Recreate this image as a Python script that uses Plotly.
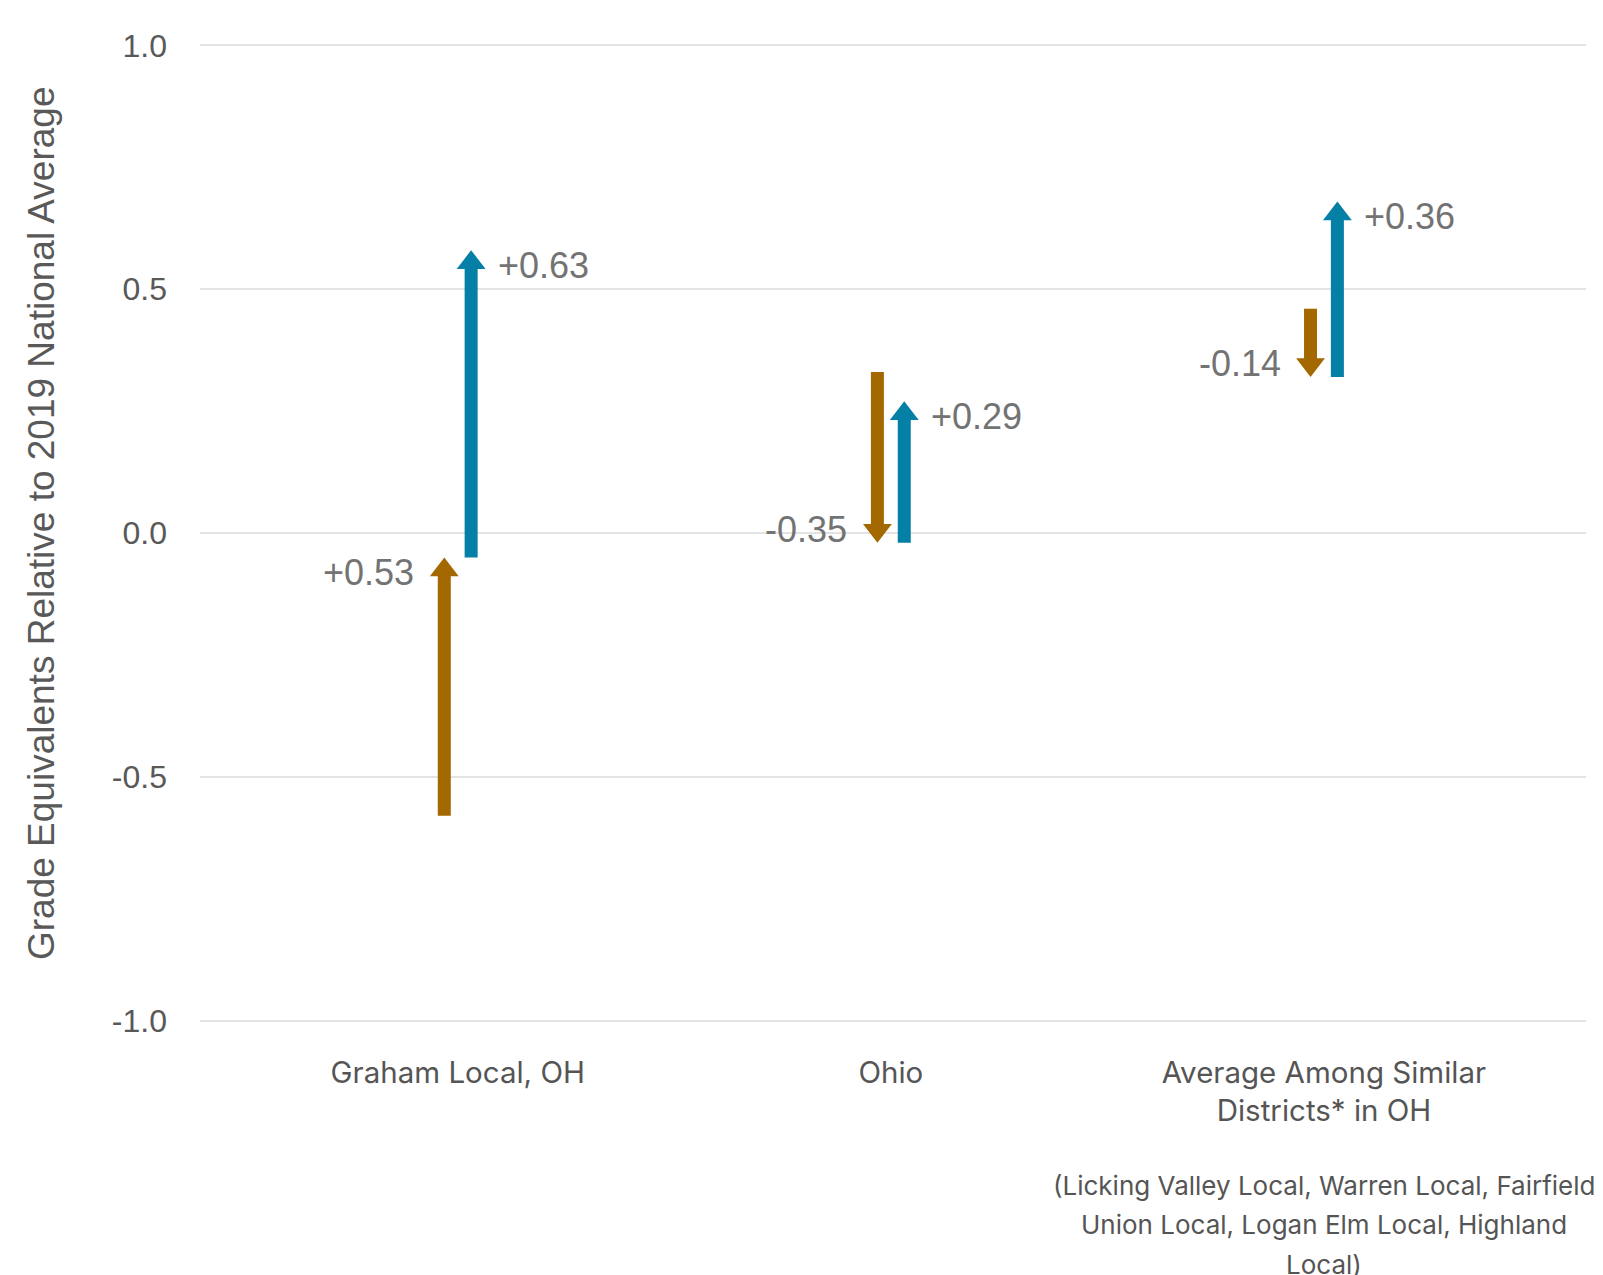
import plotly.graph_objects as go

# districts compared, with grade-equivalent positions relative to the 2019 national average
categories = ["Graham Local, OH", "Ohio", "Average Among Similar<br>Districts* in OH"]
start_vals = [-0.58, 0.33, 0.46]   # first year
mid_vals = [-0.05, -0.02, 0.32]    # second year
end_vals = [0.58, 0.27, 0.68]      # third year

footnote_lines = [
    "(Licking Valley Local, Warren Local, Fairfield",
    "Union Local, Logan Elm Local, Highland",
    "Local)",
]

ORANGE = "#a36900"
BLUE = "#047fa6"
LABEL_GREY = "#737373"
AXIS_GREY = "#595959"
OFFSET = 0.031  # half gap between the two arrows of a category
HEAD = 25       # arrowhead marker size

fig = go.Figure()

annotations = []
for i, cat in enumerate(categories):
    legs = [
        (i - OFFSET, start_vals[i], mid_vals[i], ORANGE, "right", -28),
        (i + OFFSET, mid_vals[i], end_vals[i], BLUE, "left", 25),
    ]
    for x, y0, y1, color, anchor, shift in legs:
        change = y1 - y0
        fig.add_trace(go.Scatter(
            x=[x, x], y=[y0, y1], mode="lines+markers",
            line=dict(color=color, width=13, backoff=12),
            marker=dict(symbol="triangle-up", size=[0, HEAD], color=color, opacity=1,
                        line=dict(width=0), angleref="previous", standoff=HEAD / 2),
            hoverinfo="skip",
        ))
        annotations.append(dict(
            x=x, y=y1, xref="x", yref="y", text=f"{change:+.2f}", showarrow=False,
            xanchor=anchor, yanchor="middle", xshift=shift,
            yshift=-15 if change > 0 else 13,
            font=dict(family="Liberation Sans, Arial", size=36, color=LABEL_GREY),
        ))

for k, line in enumerate(footnote_lines):
    annotations.append(dict(
        x=2, y=0, xref="x", yref="paper", text=line, showarrow=False,
        xanchor="center", yanchor="middle", xshift=0, yshift=-140 - 39.5 * k,
        font=dict(family="Inter", size=26, color="#555555"),
    ))

# y axis title, placed by hand so it sits like the original
annotations.append(dict(
    x=0, y=0.5, xref="paper", yref="paper", xanchor="center", yanchor="middle",
    xshift=-159, yshift=10, textangle=-90, showarrow=False,
    text="Grade Equivalents Relative to 2019 National Average",
    font=dict(family="Liberation Sans, Arial", size=37, color=AXIS_GREY),
))

fig.update_layout(
    width=1603, height=1275,
    margin=dict(l=200, r=17, t=21, b=230),
    plot_bgcolor="white", paper_bgcolor="white",
    showlegend=False,
    annotations=annotations,
)

fig.update_xaxes(
    range=[-0.595, 2.605], tickvals=[0, 1, 2], ticktext=categories,
    showgrid=False, zeroline=False, showline=False, automargin=False,
    tickfont=dict(family="Inter", size=29.5, color="#555555"),
    ticklabelstandoff=7,
)
fig.update_yaxes(
    range=[-1.05, 1.05], tickvals=[-1, -0.5, 0, 0.5, 1],
    ticktext=["-1.0", "-0.5", "0.0", "0.5", "1.0"],
    showgrid=True, gridcolor="#e3e3e3", gridwidth=2, zeroline=False, showline=False,
    automargin=False,
    tickfont=dict(family="Liberation Sans, Arial", size=32, color=AXIS_GREY),
    ticklabelstandoff=32,
)

fig.write_html(
    "out.html",
    config={"displayModeBar": False},
    post_script="document.body.style.margin='0';document.body.style.overflow='hidden';",
)
